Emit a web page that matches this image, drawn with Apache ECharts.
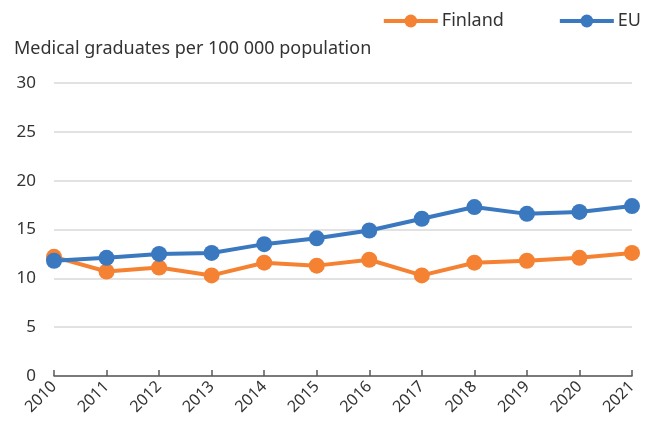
<!DOCTYPE html>
<html><head><meta charset="utf-8">
<script src="https://cdn.jsdelivr.net/npm/echarts@6/dist/echarts.min.js"></script>
<style>html,body{margin:0;padding:0;background:#fff}#c{width:646px;height:435px}</style>
</head><body><div id="c"></div>
<script>
const years = ['2010','2011','2012','2013','2014','2015','2016','2017','2018','2019','2020','2021'];
const finland = [12.2, 10.7, 11.1, 10.3, 11.6, 11.3, 11.9, 10.3, 11.6, 11.8, 12.1, 12.6];
const eu = [11.8, 12.1, 12.5, 12.6, 13.5, 14.1, 14.9, 16.1, 17.3, 16.6, 16.8, 17.4];
const yTicks = [0, 5, 10, 15, 20, 25, 30];
const FONT = 'Noto Sans';
const chart = echarts.init(document.getElementById('c'), null, {renderer: 'canvas'});
chart.setOption({
  animation: false,
  textStyle: {fontFamily: FONT},
  title: {text: 'Medical graduates per 100 000 population', left: 9, top: 35,
    textStyle: {fontFamily: FONT, fontSize: 18, fontWeight: 'normal', color: '#333'}},
  legend: {right: 0, top: 7, itemWidth: 54, itemHeight: 16, itemGap: 54,
    lineStyle: {width: 4},
    textStyle: {fontFamily: FONT, fontSize: 18, color: '#333', padding: [0,0,0,-1]},
    data: ['Finland', 'EU']},
  grid: {left: 54, right: 14, top: 83, bottom: 59, containLabel: false},
  xAxis: {type: 'category', data: years, boundaryGap: false,
    axisLine: {lineStyle: {color: '#595959', width: 1.5}},
    axisTick: {inside: true, length: 6, lineStyle: {color: '#595959', width: 1.5}},
    axisLabel: {rotate: 45, fontSize: 16, color: '#333', margin: 8, fontFamily: FONT}},
  yAxis: {type: 'value', min: yTicks[0], max: yTicks[yTicks.length-1], interval: 5,
    axisLine: {show: false}, axisTick: {show: false},
    splitLine: {lineStyle: {color: '#d9d9d9', width: 1.5}},
    axisLabel: {fontSize: 17, color: '#333', margin: 18, fontFamily: FONT}},
  series: [
    {name: 'Finland', type: 'line', data: finland, symbol: 'circle', symbolSize: 16,
      lineStyle: {width: 4, color: '#F58233'}, itemStyle: {color: '#F58233'}},
    {name: 'EU', type: 'line', data: eu, symbol: 'circle', symbolSize: 16,
      lineStyle: {width: 4, color: '#3A78BF'}, itemStyle: {color: '#3A78BF'}}
  ]
});
</script></body></html>
